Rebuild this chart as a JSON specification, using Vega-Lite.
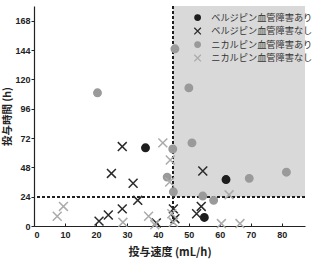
{
  "$schema": "https://vega.github.io/schema/vega-lite/v6.json",
  "width": 271,
  "height": 220,
  "autosize": "none",
  "padding": {"left": 34, "top": 6, "right": 11, "bottom": 37},
  "background": "white",
  "config": {
    "view": {"stroke": null},
    "axis": {
      "grid": false,
      "labelFont": "Liberation Sans",
      "labelFontWeight": "bold",
      "labelFontSize": 9,
      "labelColor": "#222",
      "labelOverlap": false,
      "titleFont": "Noto Sans CJK JP",
      "titleFontWeight": "bold",
      "titleFontSize": 11,
      "titleColor": "#222",
      "domainColor": "#222",
      "tickColor": "#222",
      "domainWidth": 1.2
    },
    "axisX": {"tickSize": -3, "labelPadding": 7, "titlePadding": 7},
    "axisY": {"tickSize": 3, "labelPadding": 1, "titleX": -22, "titleBaseline": "bottom", "titleFontSize": 10.5, "labelOverlap": false},
    "legend": {
      "labelFont": "Noto Sans CJK JP",
      "labelFontSize": 9.2,
      "labelColor": "#333",
      "symbolSize": 30,
      "symbolStrokeWidth": 1.3,
      "rowPadding": 1.5,
      "labelOffset": 9,
      "labelLimit": 200
    }
  },
  "datasets": {
    "pts": [
      {"group": "ベルジピン血管障害あり", "rate": 36, "hours": 64},
      {"group": "ベルジピン血管障害あり", "rate": 62, "hours": 38},
      {"group": "ベルジピン血管障害あり", "rate": 55, "hours": 7},
      {"group": "ベルジピン血管障害なし", "rate": 21, "hours": 4},
      {"group": "ベルジピン血管障害なし", "rate": 24, "hours": 9},
      {"group": "ベルジピン血管障害なし", "rate": 25, "hours": 43},
      {"group": "ベルジピン血管障害なし", "rate": 28.5, "hours": 65},
      {"group": "ベルジピン血管障害なし", "rate": 28.5, "hours": 14},
      {"group": "ベルジピン血管障害なし", "rate": 32, "hours": 35},
      {"group": "ベルジピン血管障害なし", "rate": 33.5, "hours": 21},
      {"group": "ベルジピン血管障害なし", "rate": 39.5, "hours": 2.5},
      {"group": "ベルジピン血管障害なし", "rate": 45, "hours": 14},
      {"group": "ベルジピン血管障害なし", "rate": 45.5, "hours": 6},
      {"group": "ベルジピン血管障害なし", "rate": 52.5, "hours": 10},
      {"group": "ベルジピン血管障害なし", "rate": 54, "hours": 16},
      {"group": "ベルジピン血管障害なし", "rate": 54.5, "hours": 45},
      {"group": "ニカルピン血管障害あり", "rate": 20.5, "hours": 109},
      {"group": "ニカルピン血管障害あり", "rate": 45.5, "hours": 145},
      {"group": "ニカルピン血管障害あり", "rate": 50, "hours": 113},
      {"group": "ニカルピン血管障害あり", "rate": 51, "hours": 68},
      {"group": "ニカルピン血管障害あり", "rate": 44.8, "hours": 63},
      {"group": "ニカルピン血管障害あり", "rate": 43, "hours": 40},
      {"group": "ニカルピン血管障害あり", "rate": 45, "hours": 28},
      {"group": "ニカルピン血管障害あり", "rate": 54.5, "hours": 24.5},
      {"group": "ニカルピン血管障害あり", "rate": 58, "hours": 21},
      {"group": "ニカルピン血管障害あり", "rate": 69.5, "hours": 39},
      {"group": "ニカルピン血管障害あり", "rate": 81.5, "hours": 44},
      {"group": "ニカルピン血管障害なし", "rate": 7.5, "hours": 8},
      {"group": "ニカルピン血管障害なし", "rate": 9.5, "hours": 16},
      {"group": "ニカルピン血管障害なし", "rate": 28.7, "hours": 3},
      {"group": "ニカルピン血管障害なし", "rate": 37, "hours": 8},
      {"group": "ニカルピン血管障害なし", "rate": 41.6, "hours": 68},
      {"group": "ニカルピン血管障害なし", "rate": 44, "hours": 54},
      {"group": "ニカルピン血管障害なし", "rate": 43.8, "hours": 36},
      {"group": "ニカルピン血管障害なし", "rate": 63, "hours": 25.5},
      {"group": "ニカルピン血管障害なし", "rate": 45, "hours": 3},
      {"group": "ニカルピン血管障害なし", "rate": 44.5, "hours": 10},
      {"group": "ニカルピン血管障害なし", "rate": 60.5, "hours": 2},
      {"group": "ニカルピン血管障害なし", "rate": 66.5, "hours": 2},
      {"group": "ニカルピン血管障害なし", "rate": 39, "hours": 1}
    ]
  },
  "data": {"name": "pts"},
  "layer": [
    {
      "mark": {"type": "rect", "color": "#d9d9d9"},
      "encoding": {
        "x": {"datum": 45, "type": "quantitative", "title": "投与速度 (mL/h)", "scale": {"domain": [0, 87.5], "nice": false}, "axis": {"values": [0, 10, 20, 30, 40, 50, 60, 70, 80], "labelOverlap": false}},
        "x2": {"datum": 87.5},
        "y": {"datum": 24, "type": "quantitative", "title": "投与時間 (h)", "scale": {"domain": [0, 180], "nice": false}, "axis": {"values": [0, 24, 48, 72, 96, 120, 144, 168], "labelOverlap": false}},
        "y2": {"datum": 180}
      }
    },
    {
      "mark": {"type": "rule", "strokeDash": [3, 2], "color": "#222", "strokeWidth": 1},
      "encoding": {
        "y": {"datum": 24, "type": "quantitative", "title": "投与時間 (h)", "axis": {"values": [0, 24, 48, 72, 96, 120, 144, 168], "labelOverlap": false}}
      }
    },
    {
      "mark": {"type": "rule", "strokeDash": [3, 2], "color": "#222", "strokeWidth": 1},
      "encoding": {
        "x": {"datum": 45, "type": "quantitative", "title": "投与速度 (mL/h)", "axis": {"values": [0, 10, 20, 30, 40, 50, 60, 70, 80], "labelOverlap": false}}
      }
    },
    {
      "mark": {"type": "point", "filled": true, "size": 55, "strokeWidth": 1.5, "opacity": 1},
      "encoding": {
        "x": {"field": "rate", "type": "quantitative", "title": "投与速度 (mL/h)", "axis": {"values": [0, 10, 20, 30, 40, 50, 60, 70, 80], "labelOverlap": false}},
        "y": {"field": "hours", "type": "quantitative", "title": "投与時間 (h)", "axis": {"values": [0, 24, 48, 72, 96, 120, 144, 168], "labelOverlap": false}},
        "shape": {
          "field": "group", "type": "nominal",
          "scale": {
            "domain": ["ベルジピン血管障害あり", "ベルジピン血管障害なし", "ニカルピン血管障害あり", "ニカルピン血管障害なし"],
            "range": ["circle", "M-1.2,-1.2L1.2,1.2M-1.2,1.2L1.2,-1.2", "circle", "M-1.2,-1.2L1.2,1.2M-1.2,1.2L1.2,-1.2"]
          },
          "legend": {"title": null, "orient": "none", "legendX": 159, "legendY": 7}
        },
        "fill": {
          "field": "group", "type": "nominal",
          "scale": {
            "domain": ["ベルジピン血管障害あり", "ベルジピン血管障害なし", "ニカルピン血管障害あり", "ニカルピン血管障害なし"],
            "range": ["#1e1e1e", "#2a2a2a", "#9a9a9a", "#ababab"]
          },
          "legend": {"title": null, "orient": "none", "legendX": 159, "legendY": 7}
        },
        "stroke": {
          "field": "group", "type": "nominal",
          "scale": {
            "domain": ["ベルジピン血管障害あり", "ベルジピン血管障害なし", "ニカルピン血管障害あり", "ニカルピン血管障害なし"],
            "range": ["#1e1e1e", "#2a2a2a", "#9a9a9a", "#ababab"]
          },
          "legend": {"title": null, "orient": "none", "legendX": 159, "legendY": 7}
        }
      }
    }
  ]
}
